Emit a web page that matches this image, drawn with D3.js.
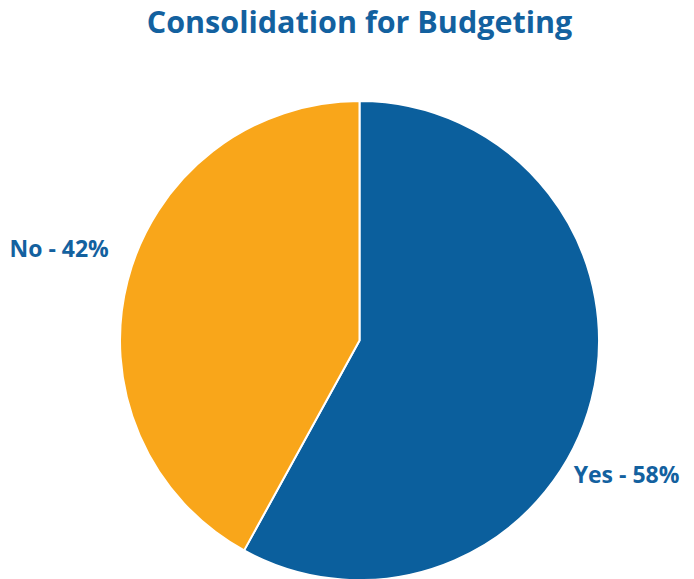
<!DOCTYPE html>
<html>
<head>
<meta charset="utf-8">
<script src="https://cdn.jsdelivr.net/npm/d3@7"></script>
<style>
  html, body { margin: 0; padding: 0; background: #ffffff; }
  svg { display: block; font-family: "Open Sans", sans-serif; }
</style>
</head>
<body>
<svg id="chart" width="694" height="579"></svg>
<script>
// Survey answers and their shares (percent)
const categories = ["Yes", "No"];
const shares = [58, 42];
const colors = ["#0b5f9d", "#f9a61a"];
const title = "Consolidation for Budgeting";

const width = 694, height = 579;
const cx = 359.5, cy = 340.5, radius = 239.5;

const svg = d3.select("#chart");

svg.append("text")
  .attr("x", cx)
  .attr("y", 33)
  .attr("text-anchor", "middle")
  .attr("font-size", 30.5)
  .attr("font-weight", 700)
  .attr("fill", "#13619f")
  .text(title);

const data = categories.map((c, i) => ({ name: c, value: shares[i], color: colors[i] }));

const pie = d3.pie().value(d => d.value).sort(null);
const arcs = pie(data);

const arc = d3.arc().innerRadius(0).outerRadius(radius);

const g = svg.append("g").attr("transform", `translate(${cx},${cy})`);

g.selectAll("path")
  .data(arcs)
  .join("path")
  .attr("d", arc)
  .attr("fill", d => d.data.color)
  .attr("stroke", "#ffffff")
  .attr("stroke-width", 2)
  .attr("stroke-linejoin", "round");

// Labels sit outside the rim; each is turned a little past its slice's middle
const labelAngleShift = [0.31, 0.10];
const labelGap = [13.5, 27.5];
g.selectAll("text.lbl")
  .data(arcs)
  .join("text")
  .attr("class", "lbl")
  .each(function (d, i) {
    const a = (d.startAngle + d.endAngle) / 2 + labelAngleShift[i];
    const r = radius + labelGap[i];
    const x = Math.sin(a) * r;
    const y = -Math.cos(a) * r;
    d3.select(this)
      .attr("x", x)
      .attr("y", y)
      .attr("dy", "0.35em")
      .attr("text-anchor", Math.sin(a) > 0 ? "start" : "end");
  })
  .attr("font-size", 23)
  .attr("font-weight", 700)
  .attr("fill", "#13619f")
  .text(d => `${d.data.name} - ${d.data.value}%`);
</script>
</body>
</html>
